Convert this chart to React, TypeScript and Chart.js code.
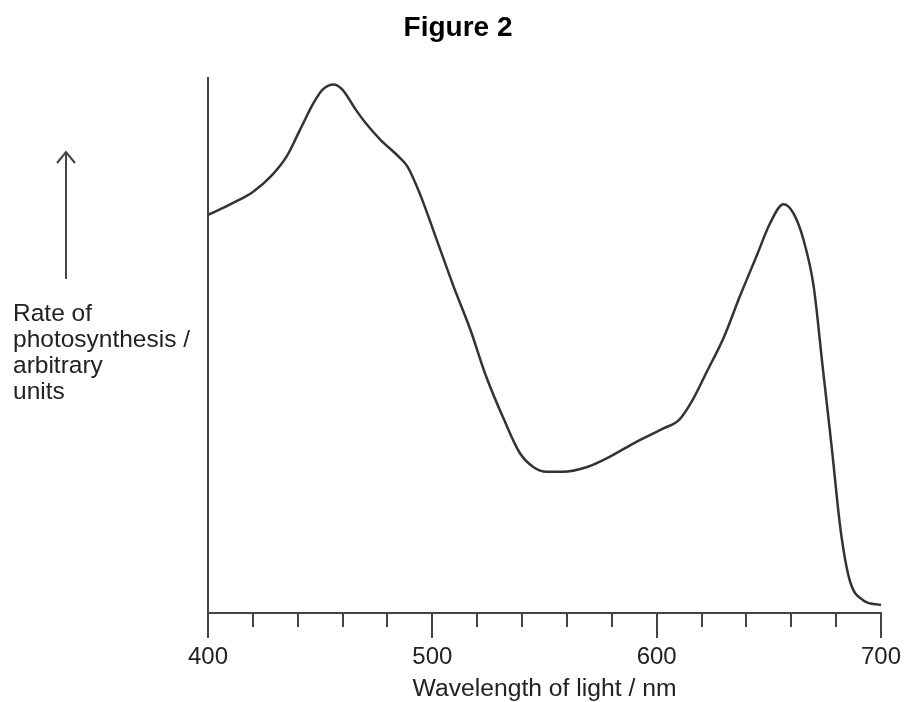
import React, { useEffect, useRef } from 'react';
import { Chart, registerables } from 'chart.js';

Chart.register(...registerables);

// Wavelength of light (nm)
const wavelengths = [
  400, 411, 420, 428, 435, 441, 447, 451, 456, 460,
  466, 471, 477, 485, 489, 494.5, 502, 509.5, 517, 524,
  532, 539, 545, 551, 558, 569, 579, 591, 603, 610,
  616, 622, 630, 637, 645, 650.5, 656.5, 661, 665.5, 670,
  674, 678, 682, 686, 692, 700,
];

// Rate of photosynthesis (arbitrary units, 0–100 on the drawn axis)
const rates = [
  74.4, 76.6, 78.7, 81.6, 85.3, 90.3, 95.3, 97.8, 98.8, 97.8,
  94.0, 91.2, 88.4, 85.3, 83.4, 78.3, 69.7, 61.0, 52.9, 44.2,
  36.1, 29.9, 27.3, 26.4, 26.4, 27.3, 29.2, 32.0, 34.5, 36.1,
  39.8, 44.8, 51.6, 59.1, 67.2, 72.8, 76.4, 74.7, 69.7, 61.0,
  46.0, 31.1, 15.5, 6.2, 2.4, 1.5,
];

const xMin = 400;
const xMax = 700;
const xMinorStep = 20;
const xLabelledTicks = ['400', '500', '600', '700'];

const chartTitle = 'Figure 2';
const yLabelLines = ['Rate of', 'photosynthesis /', 'arbitrary', 'units'];
const xTitle = 'Wavelength of light / nm';

export default function App() {
  const ref = useRef<HTMLCanvasElement>(null);

  useEffect(() => {
    const canvas = ref.current;
    if (!canvas) return;
    const ink = '#222222';
    const axisInk = '#444444';
    const family = '"Liberation Sans", Arial, Helvetica, sans-serif';

    const decor = {
      id: 'decor',
      afterDraw(chart: any) {
        const c = chart.ctx as CanvasRenderingContext2D;
        const xs = chart.scales.x;
        const area = chart.chartArea;
        c.save();
        // tick marks below the x axis
        c.strokeStyle = axisInk;
        c.lineWidth = 2;
        xs.ticks.forEach((t: any) => {
          const px = Math.round(xs.getPixelForValue(t.value));
          const len = t.value % 100 === 0 ? 25 : 14;
          c.beginPath();
          c.moveTo(px, area.bottom);
          c.lineTo(px, area.bottom + len);
          c.stroke();
        });
        // title
        c.fillStyle = '#000';
        c.font = `bold 28px ${family}`;
        c.textAlign = 'center';
        c.textBaseline = 'middle';
        c.fillText(chartTitle, 458, 28.5);
        // y label arrow
        c.strokeStyle = axisInk;
        c.lineWidth = 2;
        c.beginPath();
        c.moveTo(66, 279);
        c.lineTo(66, 153);
        c.stroke();
        c.beginPath();
        c.moveTo(57, 163);
        c.lineTo(66, 152);
        c.lineTo(75, 163);
        c.stroke();
        // y label text
        c.fillStyle = ink;
        c.font = `24.5px ${family}`;
        c.textAlign = 'left';
        c.textBaseline = 'alphabetic';
        yLabelLines.forEach((line, i) => {
          c.fillText(line, 13, 321 + i * 26);
        });
        c.restore();
      },
    };

    const chart = new Chart(canvas, {
      type: 'line',
      data: {
        datasets: [
          {
            data: wavelengths.map((w, i) => ({ x: w, y: rates[i] })),
            borderColor: '#333333',
            borderWidth: 2.5,
            pointRadius: 0,
            fill: false,
            cubicInterpolationMode: 'monotone',
            clip: false as any,
          },
        ],
      },
      options: {
        animation: false,
        responsive: false,
        maintainAspectRatio: false,
        devicePixelRatio: 1,
        layout: { padding: { left: 208, right: 27, top: 78, bottom: 0 } },
        plugins: {
          legend: { display: false },
          tooltip: { enabled: false },
          title: { display: false },
        },
        scales: {
          x: {
            type: 'linear',
            min: xMin,
            max: xMax,
            offset: false,
            afterFit: (scale: any) => {
              scale.height = 89;
              scale.paddingLeft = 0;
              scale.paddingRight = 0;
            },
            grid: {
              display: true,
              drawOnChartArea: false,
              drawTicks: true,
              tickLength: 30,
              tickColor: 'rgba(0,0,0,0)',
            },
            border: { display: true, color: axisInk, width: 2 },
            ticks: {
              stepSize: xMinorStep,
              autoSkip: false,
              maxRotation: 0,
              minRotation: 0,
              padding: 0,
              color: ink,
              font: { family, size: 24 },
              callback: (v: any) => {
                const s = String(v);
                return xLabelledTicks.includes(s) ? s : '';
              },
            },
            title: {
              display: true,
              text: xTitle,
              color: ink,
              font: { family, size: 24.7 },
              padding: { top: 0, bottom: -2 },
            },
          },
          y: {
            type: 'linear',
            min: 0,
            max: 100,
            afterFit: (scale: any) => {
              scale.width = 0;
            },
            grid: { display: false, drawTicks: false },
            border: { display: true, color: axisInk, width: 2 },
            ticks: { display: false },
          },
        },
      },
      plugins: [decor],
    });
    return () => chart.destroy();
  }, []);

  return (
    <div style={{ position: 'fixed', left: 0, top: 0, width: 908, height: 702, background: '#fff' }}>
      <canvas ref={ref} width={908} height={702} style={{ display: 'block', width: 908, height: 702 }} />
    </div>
  );
}
